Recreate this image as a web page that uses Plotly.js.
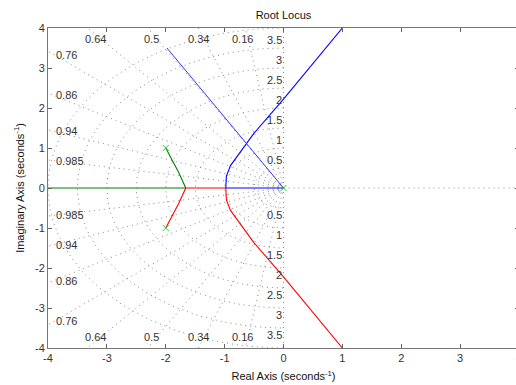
<!DOCTYPE html>
<html>
<head>
<meta charset="utf-8">
<script src="https://cdn.plot.ly/plotly-3.0.1.min.js"></script>
<style>
html,body{margin:0;padding:0;overflow:hidden;background:#fff;}
#chart{width:524px;height:385px;}
</style>
</head>
<body>
<div id="chart"></div>
<script>
// ---- data ----
const xTickVals = [-4,-3,-2,-1,0,1,2,3,4];
const xTickText = ['-4','-3','-2','-1','0','1','2','3','4'];
const yTickVals = [-4,-3,-2,-1,0,1,2,3,4];
const yTickText = ['-4','-3','-2','-1','0','1','2','3','4'];

// sgrid parameters
const zetaVals = [0.16,0.34,0.5,0.64,0.76,0.86,0.94,0.985];
const zetaTop = [0.16,0.34,0.5,0.64];
const zetaSide = [0.76,0.86,0.94,0.985];
const wnVals = [0.5,1,1.5,2,2.5,3,3.5,4];
const wnLabels = [0.5,1,1.5,2,2.5,3,3.5];

// root locus branches
const greenCplxX = [-2,-1.95,-1.88,-1.78,-1.66];
const greenCplxY = [1,0.86,0.69,0.39,0];
const greenRealX = [-1.66,-4.5];
const greenRealY = [0,0];

const redCplxX = [-2,-1.95,-1.88,-1.78,-1.66];
const redCplxY = [-1,-0.86,-0.69,-0.39,0];
const redRealX = [-1.66,-0.98];
const redRealY = [0,0];
const redAsymX = [-0.98,-0.97,-0.9,-0.75,-0.5,0,1];
const redAsymY = [0,-0.3,-0.56,-0.86,-1.37,-2.22,-4];

const blueRealX = [0,-0.98];
const blueRealY = [0,0];
const blueAsymX = [-0.98,-0.97,-0.9,-0.75,-0.5,0,1];
const blueAsymY = [0,0.3,0.56,0.86,1.37,2.22,4];
const blueDiagX = [-1.98,0];
const blueDiagY = [3.5,0];

const poleX = [-2,-2,0];
const poleY = [1,-1,0];

// ---- build grid ----
const gridColor = '#8a8a8a';
const gridDash = '1px,4px';
const gx = [], gy = [];
wnVals.forEach(w => {
  for (let a = 90; a <= 270; a += 2) {
    const t = a*Math.PI/180;
    gx.push(w*Math.cos(t)); gy.push(w*Math.sin(t));
  }
  gx.push(null); gy.push(null);
});
const rx = [], ry = [];
zetaVals.forEach(z => {
  const s = Math.sqrt(1-z*z);
  rx.push(0, -10*z, null); ry.push(0, 10*s, null);
  rx.push(0, -10*z, null); ry.push(0, -10*s, null);
});
// imaginary axis and positive real axis
rx.push(0,0,null, 0,5,null); ry.push(-5,5,null, 0,0,null);

const traces = [
  {x:gx, y:gy, mode:'lines', line:{color:gridColor, width:1, dash:gridDash}, hoverinfo:'skip'},
  {x:rx, y:ry, mode:'lines', line:{color:gridColor, width:1, dash:gridDash}, hoverinfo:'skip'},
  {x:greenRealX, y:greenRealY, mode:'lines', line:{color:'#008000', width:1.2}},
  {x:greenCplxX, y:greenCplxY, mode:'lines', line:{color:'#008000', width:1.1}},
  {x:redCplxX, y:redCplxY, mode:'lines', line:{color:'#ff0000', width:1.1}},
  {x:redRealX, y:redRealY, mode:'lines', line:{color:'#ff0000', width:1.2}},
  {x:redAsymX, y:redAsymY, mode:'lines', line:{color:'#ff0000', width:1.1}},
  {x:blueRealX, y:blueRealY, mode:'lines', line:{color:'#0000ff', width:1.2}},
  {x:blueAsymX, y:blueAsymY, mode:'lines', line:{color:'#0000ff', width:1.1}},
  {x:blueDiagX, y:blueDiagY, mode:'lines', line:{color:'#3333ff', width:1}},
  {x:poleX, y:poleY, mode:'markers', marker:{symbol:'x-thin-open', size:6, color:'#33cc33', line:{color:'#33cc33', width:1}}}
];

// ---- grid labels ----
const lblFont = {family:'Liberation Sans, Arial, sans-serif', size:11, color:'#333'};
const ann = [];
zetaTop.forEach(z => {
  const s = Math.sqrt(1-z*z);
  const yv = 3.72;
  [1,-1].forEach(sg => {
    ann.push({x:-yv*z/s, y:sg*yv, text:String(z), showarrow:false, xanchor:'center', yanchor:'middle', xshift:-6, font:lblFont});
  });
});
zetaSide.forEach(z => {
  const s = Math.sqrt(1-z*z);
  const xv = -3.9;
  [1,-1].forEach(sg => {
    ann.push({x:xv, y:sg*(-xv)*s/z, text:String(z), showarrow:false, xanchor:'left', yanchor:'middle', font:lblFont});
  });
});
wnLabels.forEach(w => {
  ann.push({x:0, y:w+0.2, text:String(w), showarrow:false, xanchor:'right', yanchor:'middle', font:lblFont});
  ann.push({x:0, y:-(w+0.17), text:String(w), showarrow:false, xanchor:'right', yanchor:'middle', font:lblFont});
});

const axFont = {family:'Liberation Sans, Arial, sans-serif', size:11, color:'#333'};
const layout = {
  width:524, height:385,
  margin:{l:48, r:5, t:28, b:37},
  paper_bgcolor:'#fff', plot_bgcolor:'#fff',
  showlegend:false,
  title:{text:'Root Locus', xref:'paper', x:0.5, xanchor:'center', yref:'container', y:1-15/385, yanchor:'middle', font:{family:'Liberation Sans, Arial, sans-serif', size:11, color:'#111'}},
  xaxis:{range:[-4,4], tickmode:'array', tickvals:xTickVals, ticktext:xTickText, ticks:'inside', ticklen:4, tickcolor:'#666',
         showline:true, linecolor:'#777', linewidth:1, mirror:'ticks', showgrid:false, zeroline:false, tickfont:axFont,
         title:{text:'Real Axis (seconds<sup>-1</sup>)', font:{family:'Liberation Sans, Arial, sans-serif', size:11, color:'#111'}, standoff:9}},
  yaxis:{range:[-4,4], tickmode:'array', tickvals:yTickVals, ticktext:yTickText, ticks:'inside', ticklen:4, tickcolor:'#666',
         showline:true, linecolor:'#777', linewidth:1, mirror:'ticks', showgrid:false, zeroline:false, tickfont:axFont,
         title:{text:'Imaginary Axis (seconds<sup>-1</sup>)', font:{family:'Liberation Sans, Arial, sans-serif', size:11, color:'#111'}, standoff:8}},
  annotations:ann
};
Plotly.newPlot('chart', traces, layout, {staticPlot:true, displayModeBar:false});
</script>
</body>
</html>
